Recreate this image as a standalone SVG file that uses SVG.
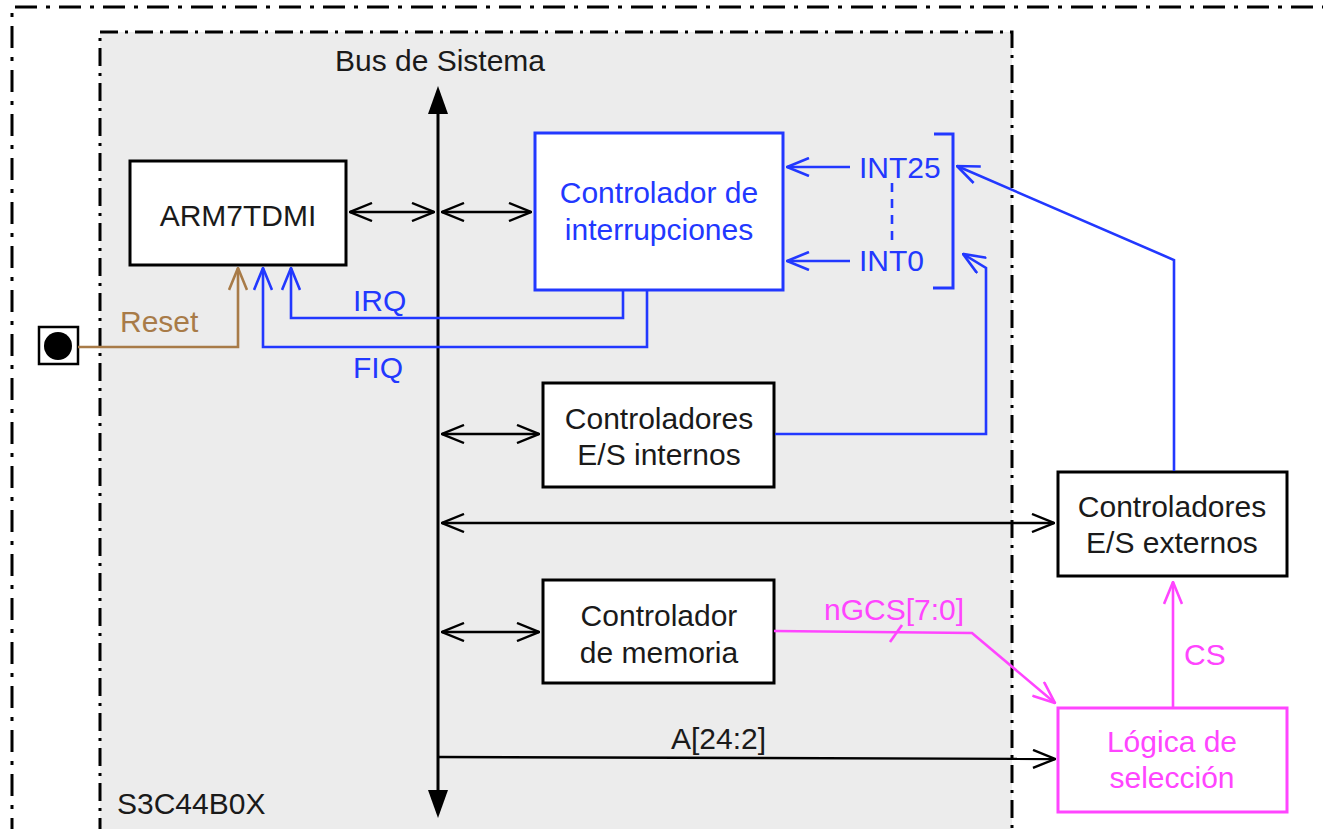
<svg xmlns="http://www.w3.org/2000/svg" width="1323" height="829" viewBox="0 0 1323 829">
<style>
text{font-family:"Liberation Sans",Arial,sans-serif;font-size:30px;}
.k{fill:#1a1a1a;}
.b{fill:#2238ff;}
.m{fill:#ff45ff;}
.r{fill:#a87b48;}
.box{fill:#ffffff;stroke:#000;stroke-width:3;}
.bbox{fill:#ffffff;stroke:#2238ff;stroke-width:3;}
.mbox{fill:#ffffff;stroke:#ff45ff;stroke-width:3;}
.ck{fill:none;stroke:#000;stroke-width:2.4;}
.cb{fill:none;stroke:#2238ff;stroke-width:2.6;}
.cm{fill:none;stroke:#ff45ff;stroke-width:2.6;}
.cr{fill:none;stroke:#a87b48;stroke-width:2.6;}
</style>
<defs>
<marker id="ak" viewBox="0 0 24 20" refX="23" refY="10" markerWidth="24" markerHeight="20" markerUnits="userSpaceOnUse" orient="auto-start-reverse"><path d="M1,1 L23,10 L1,19" fill="none" stroke="#000" stroke-width="2.4"/></marker>
<marker id="ab" viewBox="0 0 24 20" refX="23" refY="10" markerWidth="24" markerHeight="20" markerUnits="userSpaceOnUse" orient="auto-start-reverse"><path d="M1,1 L23,10 L1,19" fill="none" stroke="#2238ff" stroke-width="2.6"/></marker>
<marker id="am" viewBox="0 0 24 20" refX="23" refY="10" markerWidth="24" markerHeight="20" markerUnits="userSpaceOnUse" orient="auto-start-reverse"><path d="M1,1 L23,10 L1,19" fill="none" stroke="#ff45ff" stroke-width="2.6"/></marker>
<marker id="ar" viewBox="0 0 24 20" refX="23" refY="10" markerWidth="24" markerHeight="20" markerUnits="userSpaceOnUse" orient="auto-start-reverse"><path d="M1,1 L23,10 L1,19" fill="none" stroke="#a87b48" stroke-width="2.6"/></marker>
</defs>
<rect width="1323" height="829" fill="#ffffff"/>
<g id="outer">
<path d="M12,840 V7 H1340" fill="none" stroke="#000" stroke-width="3" stroke-dasharray="22 9 4 9"/>
</g>
<g id="chip">
<rect x="100" y="32" width="912" height="820" fill="#ececec" stroke="#000" stroke-width="3" stroke-dasharray="18 7 3 7"/>
<text class="k" x="117" y="814">S3C44B0X</text>
</g>
<g id="bus">
<line x1="438" y1="108" x2="438" y2="792" stroke="#000" stroke-width="3"/>
<polygon points="438,86 428,114 448,114" fill="#000"/>
<polygon points="438,818 428,790 448,790" fill="#000"/>
<text class="k" x="440" y="71" text-anchor="middle">Bus de Sistema</text>
</g>
<g id="arm">
<rect class="box" x="130" y="161" width="216" height="104"/>
<text class="k" x="238" y="226" text-anchor="middle">ARM7TDMI</text>
</g>
<g id="intctl">
<rect class="bbox" x="535" y="133" width="248" height="157"/>
<text class="b" x="659" y="203" text-anchor="middle">Controlador de</text>
<text class="b" x="659" y="240" text-anchor="middle">interrupciones</text>
</g>
<g id="intlabels">
<text class="b" x="859" y="178">INT25</text>
<text class="b" x="859" y="271">INT0</text>
<line x1="892" y1="183" x2="892" y2="245" stroke="#2238ff" stroke-width="2.6" stroke-dasharray="9 7"/>
<path d="M934,134 H953 V288 H933" fill="none" stroke="#2238ff" stroke-width="3"/>
</g>
<g id="reset">
<rect x="39" y="327" width="39" height="37" fill="#fff" stroke="#000" stroke-width="2.5"/>
<circle cx="58" cy="346" r="14" fill="#000"/>
<text class="r" x="120" y="332">Reset</text>
</g>
<g id="esint">
<rect class="box" x="543" y="383" width="231" height="104"/>
<text class="k" x="659" y="429" text-anchor="middle">Controladores</text>
<text class="k" x="659" y="465" text-anchor="middle">E/S internos</text>
</g>
<g id="esext">
<rect class="box" x="1058" y="472" width="229" height="104"/>
<text class="k" x="1172" y="517" text-anchor="middle">Controladores</text>
<text class="k" x="1172" y="553" text-anchor="middle">E/S externos</text>
</g>
<g id="mem">
<rect class="box" x="543" y="580" width="231" height="103"/>
<text class="k" x="659" y="626" text-anchor="middle">Controlador</text>
<text class="k" x="659" y="663" text-anchor="middle">de memoria</text>
</g>
<g id="logica">
<rect class="mbox" x="1058" y="708" width="229" height="104"/>
<text class="m" x="1172" y="752" text-anchor="middle">Lógica de</text>
<text class="m" x="1172" y="788" text-anchor="middle">selección</text>
</g>
<g id="connectors">
<line class="ck" x1="350" y1="212" x2="434" y2="212" marker-start="url(#ak)" marker-end="url(#ak)"/>
<line class="ck" x1="442" y1="212" x2="531" y2="212" marker-start="url(#ak)" marker-end="url(#ak)"/>
<line class="ck" x1="442" y1="434" x2="539" y2="434" marker-start="url(#ak)" marker-end="url(#ak)"/>
<line class="ck" x1="442" y1="523" x2="1054" y2="523" marker-start="url(#ak)" marker-end="url(#ak)"/>
<line class="ck" x1="442" y1="632" x2="539" y2="632" marker-start="url(#ak)" marker-end="url(#ak)"/>
<path class="ck" d="M438,757 L1055,759" marker-end="url(#ak)"/>
<text class="k" x="671" y="749">A[24:2]</text>
<path class="cr" d="M78,347 H238 V268" marker-end="url(#ar)"/>
<path class="cb" d="M623,291 V318 H291 V268" marker-end="url(#ab)"/>
<text class="b" x="353" y="311">IRQ</text>
<path class="cb" d="M647,291 V347 H263 V268" marker-end="url(#ab)"/>
<text class="b" x="353" y="378">FIQ</text>
<line class="cb" x1="850" y1="167" x2="787" y2="167" marker-end="url(#ab)"/>
<line class="cb" x1="850" y1="261" x2="787" y2="261" marker-end="url(#ab)"/>
<path class="cb" d="M1174,471 V260 L957,166" marker-end="url(#ab)"/>
<path class="cb" d="M775,434 H986 V268 L963,254" marker-end="url(#ab)"/>
<path class="cm" d="M774,631 L972,633 L1055,703" marker-end="url(#am)"/>
<line x1="890" y1="642" x2="902" y2="625" stroke="#ff45ff" stroke-width="2.6"/>
<text class="m" x="824" y="620">nGCS[7:0]</text>
<line class="cm" x1="1173" y1="707" x2="1173" y2="582" marker-end="url(#am)"/>
<text class="m" x="1184" y="665">CS</text>
</g>
</svg>
